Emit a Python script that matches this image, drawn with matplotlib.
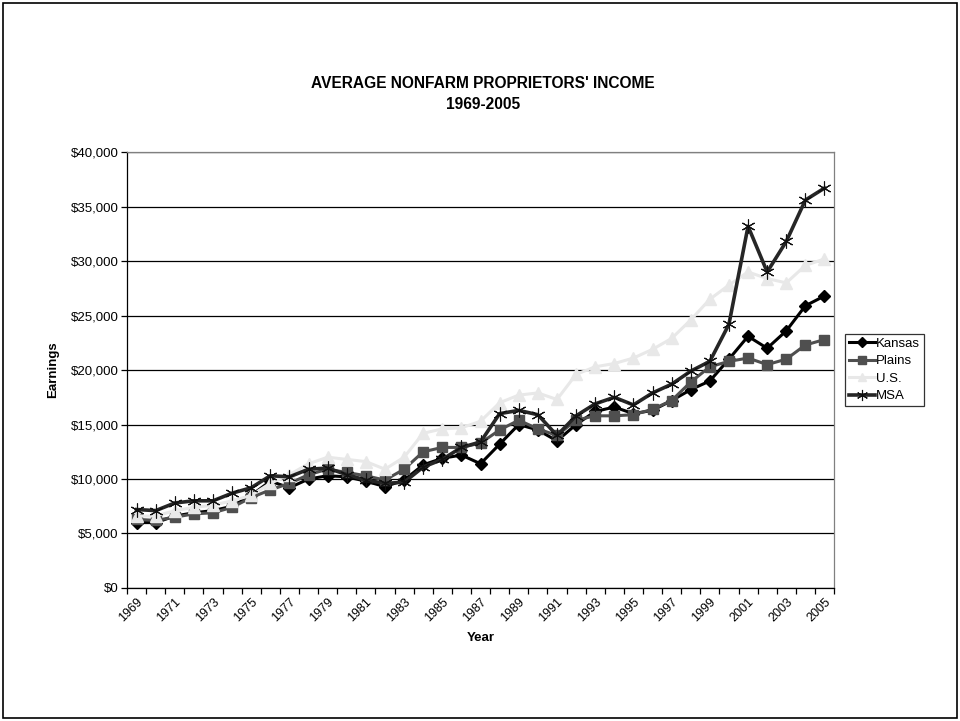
import numpy as np
import matplotlib
matplotlib.use('Agg')
import matplotlib.pyplot as plt
import matplotlib.ticker as tkr
from matplotlib.patches import Rectangle

plt.rcParams['font.family'] = ['Liberation Sans', 'DejaVu Sans']

years = list(range(1969, 2006))

kansas = [6000, 6000, 6600, 6900, 7100, 7500, 8500, 9800, 9200, 10000,
          10300, 10200, 9800, 9300, 9900, 11300, 11900, 12200, 11400, 13200,
          15000, 14500, 13500, 15000, 16200, 16600, 16000, 16300, 17200, 18200,
          19000, 21000, 23100, 22000, 23600, 25900, 26800]
plains = [6300, 6200, 6500, 6800, 6900, 7400, 8300, 9000, 9600, 10400,
          10900, 10600, 10300, 9900, 10900, 12500, 12900, 12900, 13300, 14500,
          15400, 14600, 14000, 15400, 15800, 15800, 15900, 16400, 17200, 18900,
          20300, 20800, 21100, 20500, 21000, 22300, 22800]
us = [6600, 6600, 7100, 7400, 7600, 8000, 8500, 9600, 10400, 11400,
      12000, 11800, 11600, 10900, 12000, 14200, 14600, 14700, 15300, 17000,
      17700, 17900, 17300, 19600, 20300, 20600, 21100, 21900, 22900, 24600,
      26500, 27800, 29000, 28400, 28000, 29600, 30200]
msa = [7200, 7100, 7800, 8000, 8000, 8700, 9200, 10300, 10200, 10900,
       11000, 10400, 9900, 9600, 9700, 11100, 11800, 12900, 13400, 16000,
       16300, 15900, 14000, 15800, 16900, 17500, 16800, 17900, 18700, 19900,
       20800, 24200, 33200, 29000, 31800, 35600, 36700]

fig = plt.figure(figsize=(9.6, 7.21), dpi=100)
ax = fig.add_axes([0.1323, 0.1845, 0.7365, 0.6045])

x = np.arange(len(years))

# ----------series--------------#
ax.plot(x, kansas, color='black', lw=2.2, marker='D', ms=6, mfc='black', mec='black',
        label='Kansas', zorder=3)
ax.plot(x, plains, color='#4f4f4f', lw=2.2, marker='s', ms=7.5, mfc='#4f4f4f', mec='#4f4f4f',
        label='Plains', zorder=4)
ax.plot(x, us, color='#e8e8e8', lw=2.2, marker='^', ms=8, mfc='#e8e8e8', mec='#e8e8e8',
        label='U.S.', zorder=5)
ax.plot(x, msa, color='#262626', lw=2.6, marker=(6, 2, 0), ms=10, mec='#111111', mew=0.8,
        label='MSA', zorder=6)

# ----------axes--------------#
ax.set_xlim(-0.5, len(years) - 0.5)
ax.set_ylim(0, 40000)
ax.set_yticks(np.arange(0, 40001, 5000))
ax.yaxis.set_major_formatter(tkr.FuncFormatter(lambda v, p: '${:,.0f}'.format(v)))
ax.grid(axis='y', color='black', lw=0.9, zorder=1)
ax.set_axisbelow(True)

ax.set_xticks(x)
ax.set_xticklabels([str(y) if (y - 1969) % 2 == 0 else '' for y in years],
                   rotation=45, ha='right', va='top', rotation_mode='anchor')
ax.set_xticks(np.arange(-0.5, len(years)), minor=True)
ax.tick_params(axis='x', which='major', length=0, pad=6, labelsize=9)
ax.tick_params(axis='x', which='minor', length=4, color='black', width=0.9)
ax.tick_params(axis='y', length=4, width=0.9, labelsize=9.5, pad=2)

for side in ['top', 'right']:
    ax.spines[side].set_color('#808080')
for side in ['left', 'bottom']:
    ax.spines[side].set_color('black')
for spine in ax.spines.values():
    spine.set_linewidth(0.9)

ax.set_xlabel('Year', fontsize=9.5, fontweight='bold', labelpad=5)
ax.set_ylabel('Earnings', fontsize=9.5, fontweight='bold', labelpad=8)

fig.text(0.503, 0.870, "AVERAGE NONFARM PROPRIETORS' INCOME\n1969-2005",
         ha='center', va='center', fontsize=11.2, fontweight='bold', linespacing=1.5)

leg = ax.legend(loc='center left', bbox_to_anchor=(1.0, 0.5), fontsize=9.5,
                frameon=True, fancybox=False, edgecolor='black', borderpad=0.3,
                handlelength=2.0, handletextpad=0.1, labelspacing=0.4, borderaxespad=0.8,
                markerscale=0.8)
leg.get_frame().set_linewidth(0.9)

fig.patches.append(Rectangle((0.003, 0.004), 0.994, 0.992, transform=fig.transFigure,
                             fill=False, edgecolor='black', lw=1.2))

plt.savefig('out.png', dpi=100)
